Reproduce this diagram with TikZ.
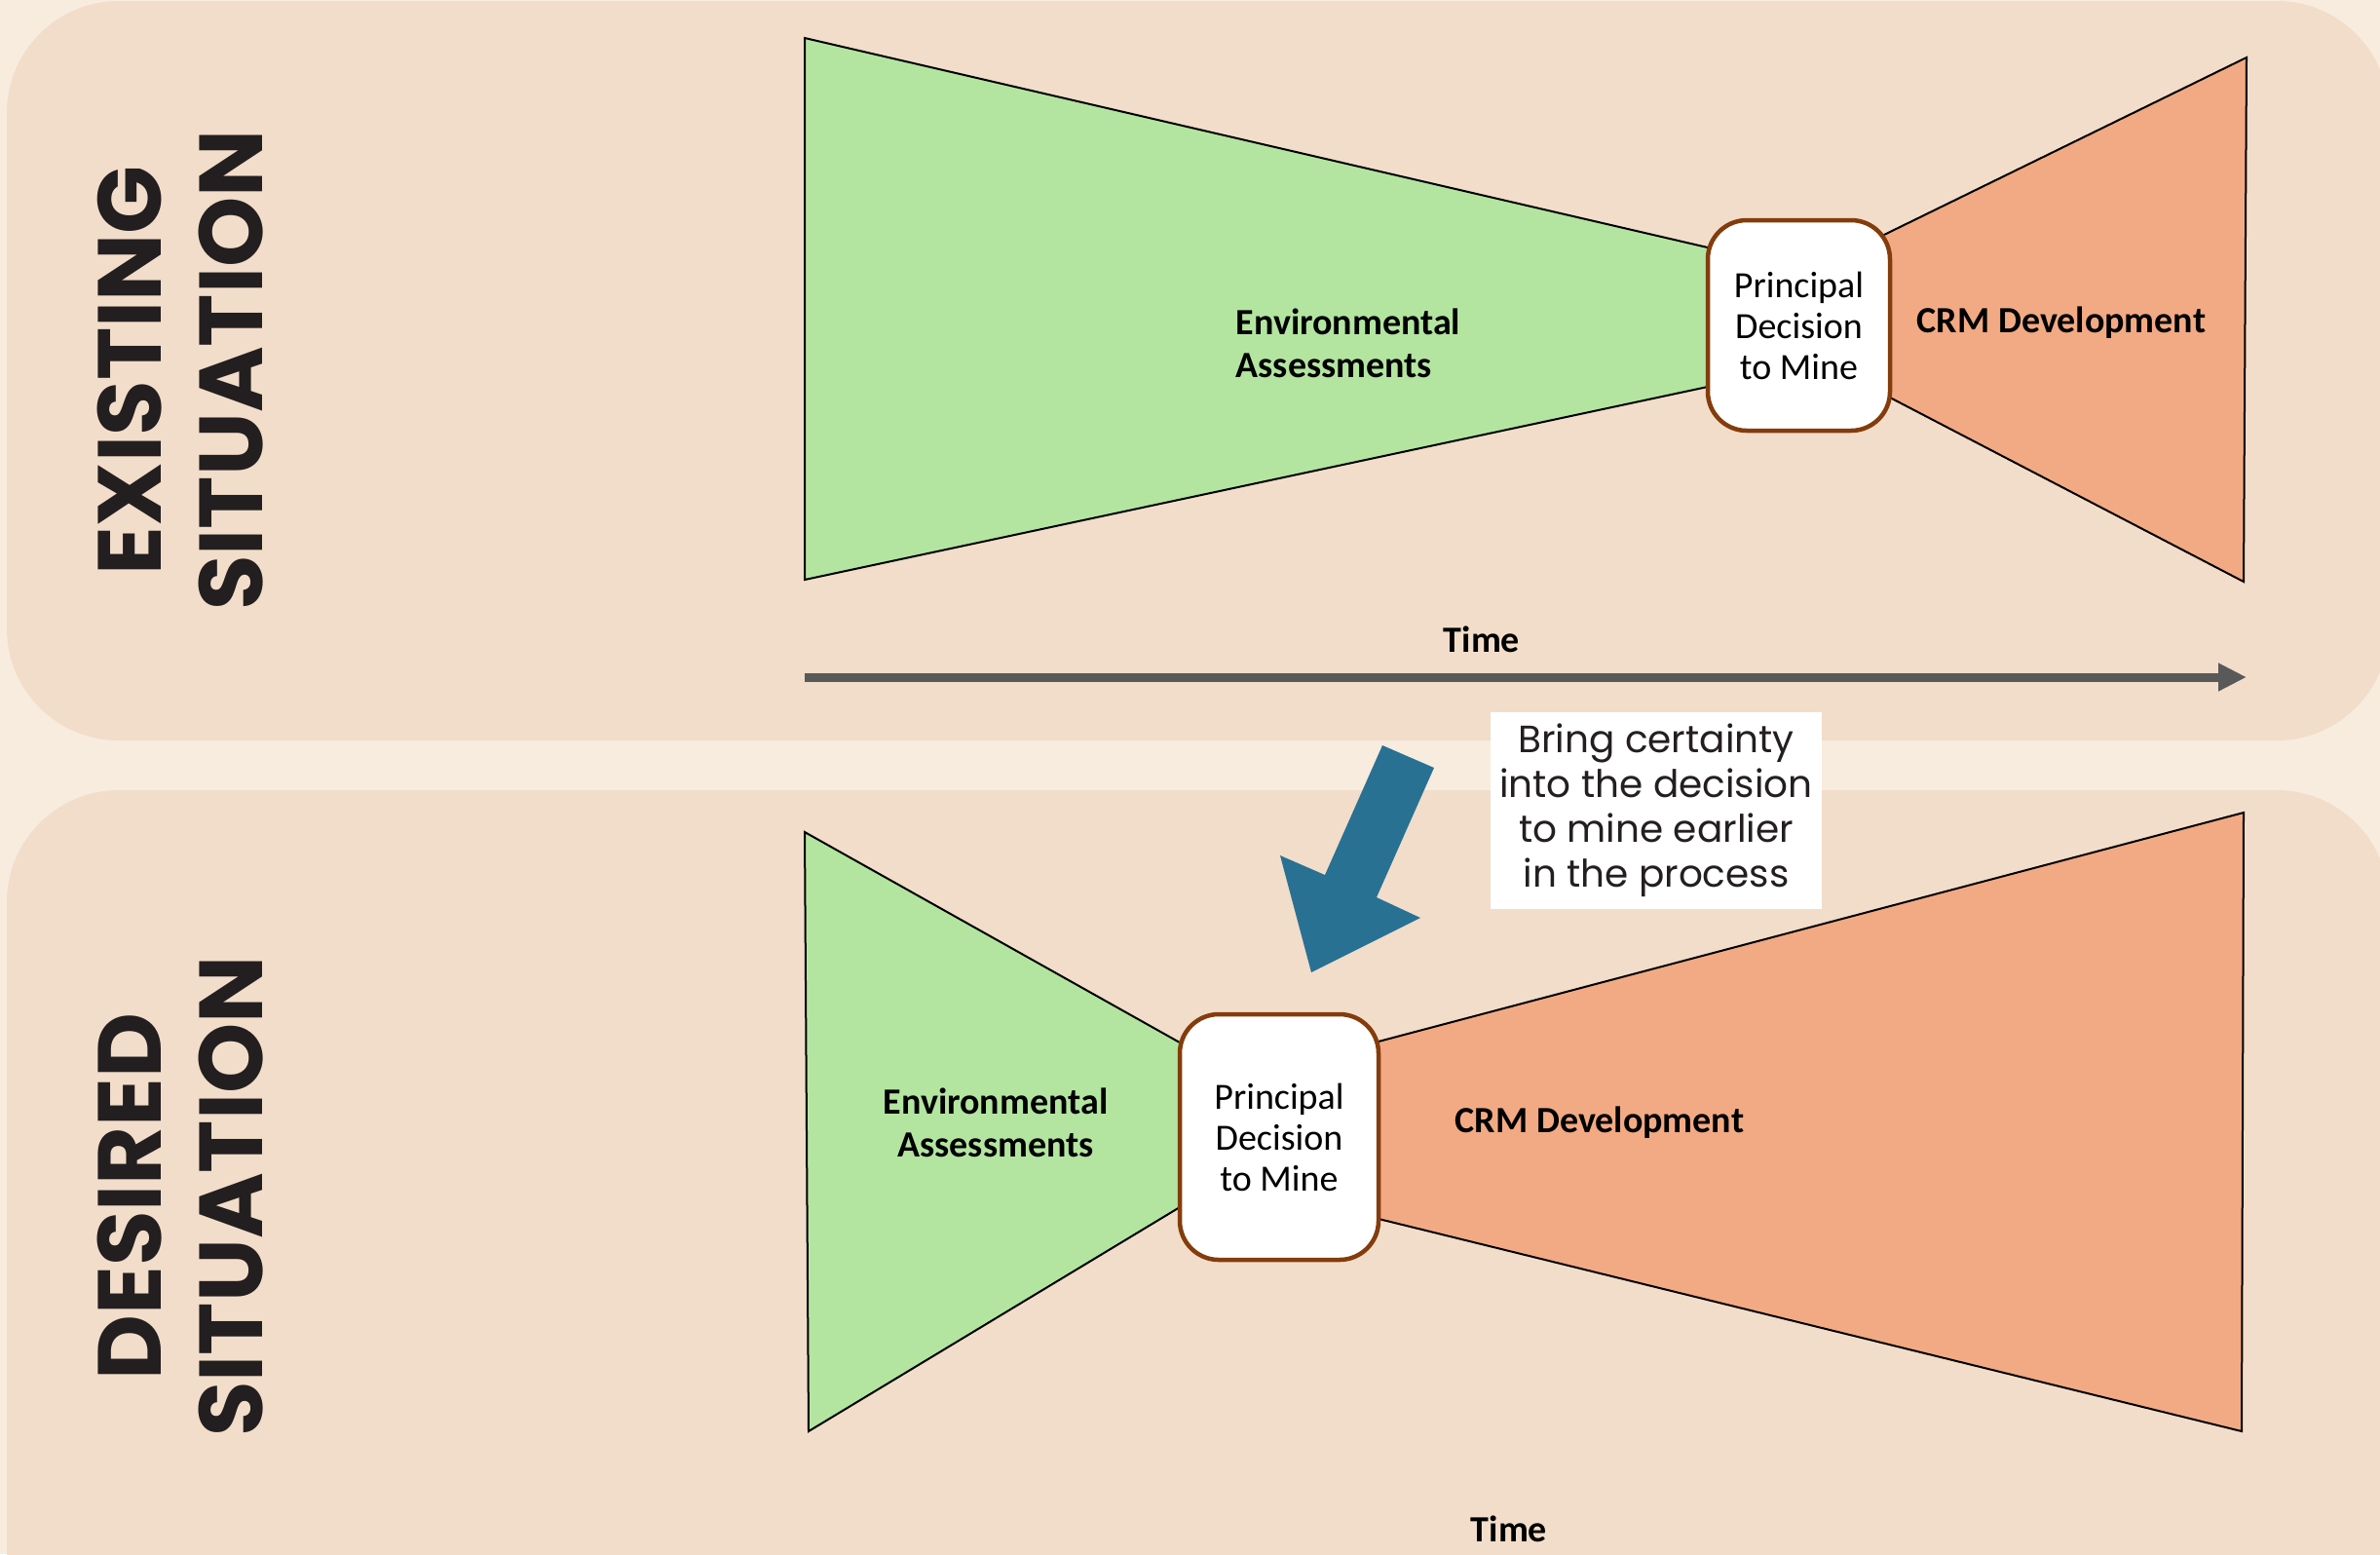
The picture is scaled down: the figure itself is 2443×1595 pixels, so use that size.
\documentclass[tikz,border=0pt]{standalone}
\usepackage{fontspec}
\setmainfont{Carlito}
\newfontfamily\popfont{Poppins}
\usetikzlibrary{arrows.meta}
\definecolor{outerbg}{HTML}{F8ECDF}
\definecolor{panelbg}{HTML}{F2DDCA}
\definecolor{envgreen}{HTML}{B3E5A1}
\definecolor{crmorange}{HTML}{F2AA84}
\definecolor{boxbrown}{HTML}{843C0C}
\definecolor{timegray}{HTML}{595959}
\definecolor{bluearrow}{HTML}{297193}
\definecolor{titleink}{HTML}{231F20}
\begin{document}
\begin{tikzpicture}[x=0.3pt,y=-0.3pt,
  panel/.style={fill=panelbg, rounded corners=34.5pt},
  envshape/.style={fill=envgreen, draw=black, line width=0.6pt},
  crmshape/.style={fill=crmorange, draw=black, line width=0.6pt},
  decbox/.style={draw=boxbrown, fill=white, line width=1.35pt, rounded corners=12pt, align=center,
    font=\fontsize{11.4pt}{12.6pt}\selectfont, inner sep=0pt},
  lbl/.style={font=\fontsize{11.4pt}{13.1pt}\selectfont\bfseries, inner sep=0pt},
  titletxt/.style={rotate=90, align=center, text=titleink,
    font=\popfont\bfseries\fontsize{27.6pt}{31.2pt}\selectfont, inner sep=0pt},
  notebox/.style={fill=white, align=center, text=titleink,
    font=\popfont\fontsize{11.7pt}{13.8pt}\selectfont, minimum width=102pt, minimum height=60.6pt, inner sep=0pt},
  timearrow/.style={draw=timegray, line width=2.7pt, -{Triangle[length=8.7pt,width=8.1pt]}},
]
\useasboundingbox (0,0) rectangle (2443,1595);
\fill[outerbg] (0,0) rectangle (2443,1595);
% panels
\fill[panel] (7,1) rectangle (2452,760);
\fill[panel] (7,811) rectangle (2452,1800);

% ---------- existing situation ----------
\draw[envshape] (826,39) -- (1780,260.3) -- (1780,391.2) -- (826,595) -- cycle;
\draw[crmshape] (1910,252.7) -- (2306,59) -- (2303,597) -- (1910,392.4) -- cycle;
\node[decbox, minimum width=56.1pt, minimum height=64.8pt] (dec1) at (1846.5,334) {Principal\\Decision\\to Mine};
\node[lbl, align=left, anchor=west] (env1) at (1268,352) {Environmental\\Assessments};
\node[lbl] (crm1) at (2116,331) {CRM Development};
\node[lbl] (time1) at (1521,656) {Time};
\coordinate (ta) at (826,695);
\coordinate (tb) at (2306,695);
\draw[timearrow] (ta) -- (tb);
\node[titletxt] (t1) at (185,380) {EXISTING\\SITUATION};

% ---------- arrow and note ----------
\fill[bluearrow] (1419,765) -- (1472,788) -- (1413,921) -- (1458,942) -- (1346,998) -- (1314,878) -- (1360,898) -- cycle;
\node[notebox] (note) at (1700,832) {Bring certainty\\into the decision\\to mine earlier\\in the process};

% ---------- desired situation ----------
\draw[envshape] (826,854) -- (1240,1086.3) -- (1240,1221.5) -- (830,1469) -- cycle;
\draw[crmshape] (1385,1076.9) -- (2303,834) -- (2301,1469) -- (1385,1243.6) -- cycle;
\node[decbox, minimum width=61.2pt, minimum height=75.6pt] (dec2) at (1313,1167) {Principal\\Decision\\to Mine};
\node[lbl, align=center] (env2) at (1022,1152) {Environmental\\Assessments};
\node[lbl] (crm2) at (1642,1152) {CRM Development};
\node[lbl] (time2) at (1549,1569) {Time};
\node[titletxt] (t2) at (185,1228) {DESIRED\\SITUATION};
\end{tikzpicture}
\end{document}
